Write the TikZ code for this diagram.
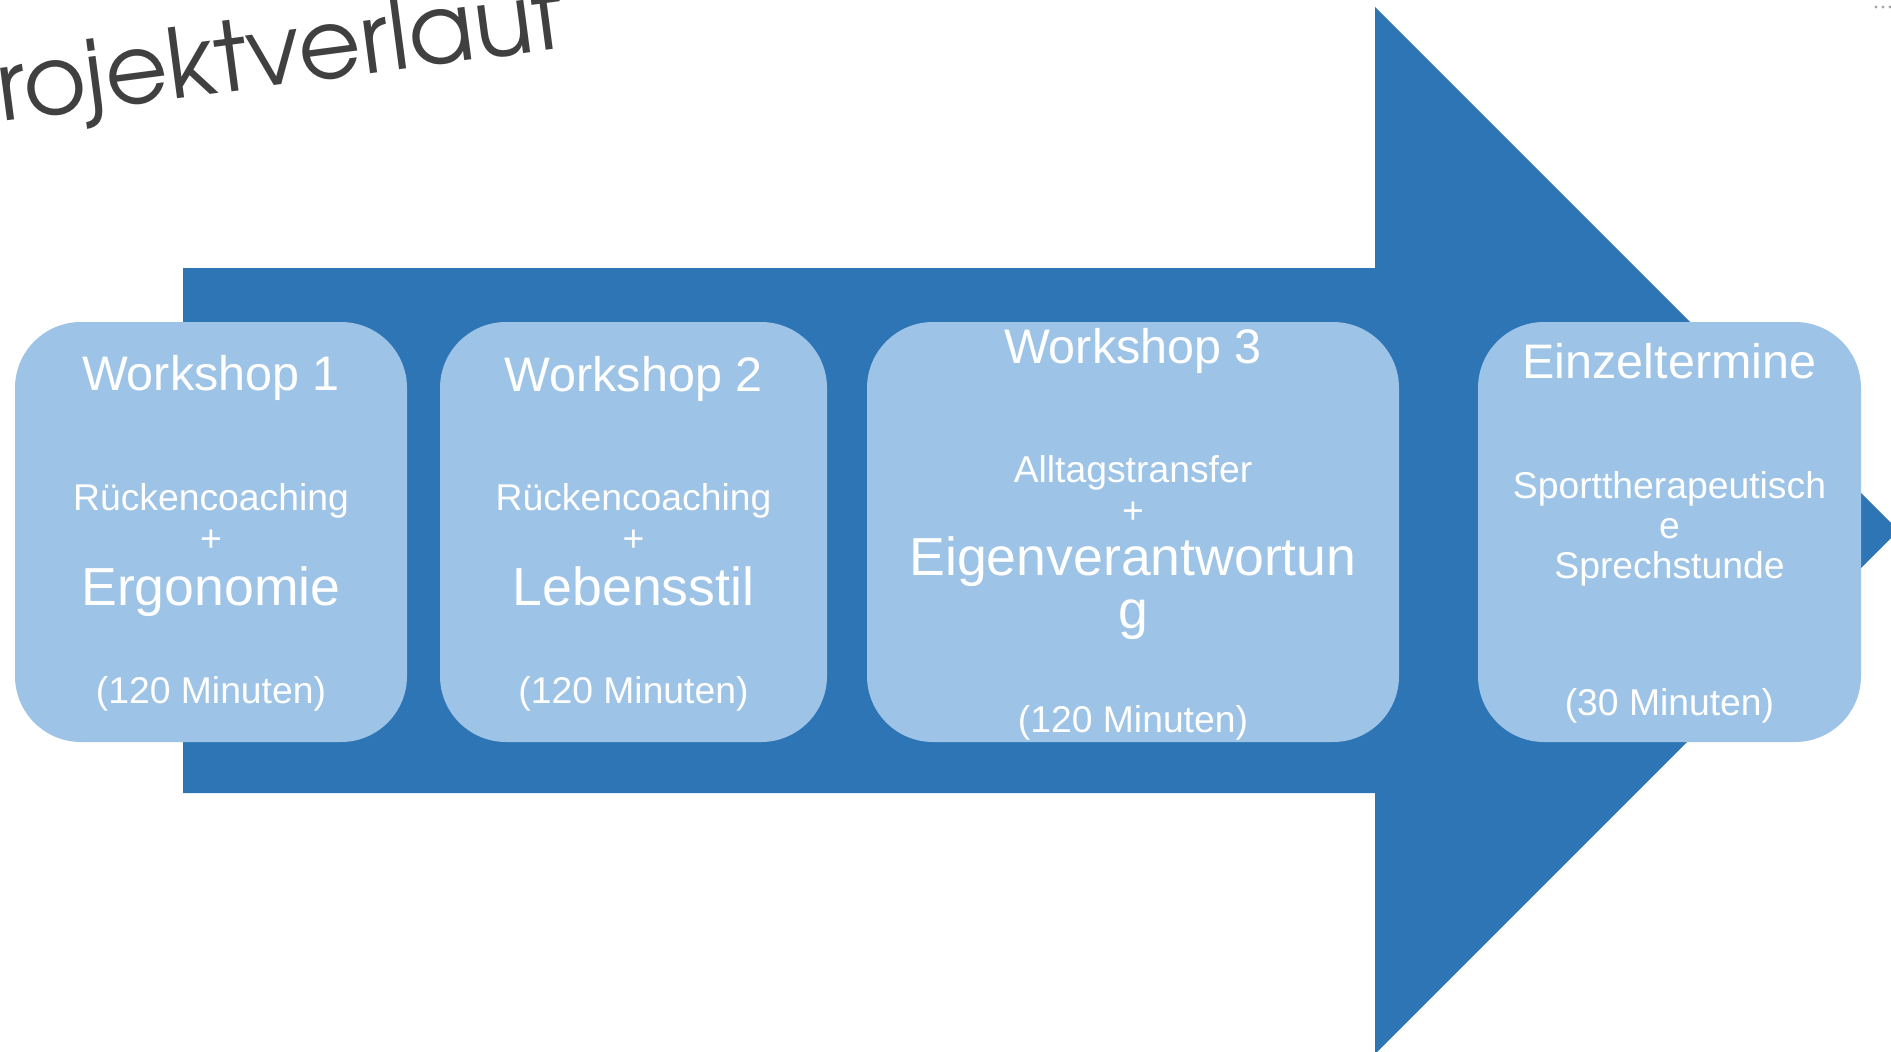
\documentclass[tikz,border=0pt]{standalone}
\usepackage{fontspec}
\setmainfont{Liberation Sans}
\newfontfamily\titlefont{texgyreadventor-regular.otf}
\definecolor{darkblue}{HTML}{2E75B6}
\definecolor{lightblue}{HTML}{9DC3E6}
\definecolor{titlegray}{HTML}{404040}
\begin{document}
\begin{tikzpicture}[x=1pt,y=-1pt,
  box/.style={fill=lightblue, draw=none, rounded corners=66pt, minimum height=420pt, inner sep=0pt},
  txt/.style={text=white, anchor=base, inner sep=0pt},
  bigtxt/.style={txt, font=\fontsize{48.5}{56}\selectfont},
  midtxt/.style={txt, font=\fontsize{37.3}{43}\selectfont},
  hugetxt/.style={txt, font=\fontsize{53.6}{61}\selectfont}]
\useasboundingbox (0,0) rectangle (1891,1052);
\clip (0,0) rectangle (1891,1052);
% big arrow
\fill[darkblue] (183,268) -- (1375,268) -- (1375,7) -- (1898.5,530.5)
  -- (1375,1054) -- (1375,793) -- (183,793) -- cycle;
% title
\node[anchor=base west, rotate=7.5, text=titlegray, inner sep=0pt,
  font=\titlefont\fontsize{96.5}{100}\selectfont] (title) at (1,122) {rojektverlauf};
% dots top right
\fill[gray!70] (1876,7) circle (1.7pt);
\fill[gray!70] (1883,7) circle (1.7pt);
\fill[gray!70] (1890,7) circle (1.7pt);
% boxes
\node[box, minimum width=392pt] (b1) at (211,532) {};
\node[box, minimum width=387pt] (b2) at (633.5,532) {};
\node[box, minimum width=532pt] (b3) at (1133,532) {};
\node[box, minimum width=383pt] (b4) at (1669.5,532) {};
% box 1
\node[bigtxt] (w1) at (211,390) {Workshop 1};
\node[midtxt] (r1) at (211,510) {Rückencoaching};
\node[midtxt] (p1) at (211,551) {+};
\node[hugetxt] (e1) at (211,605) {Ergonomie};
\node[midtxt] (m1) at (211,703) {(120 Minuten)};
% box 2
\node[bigtxt] (w2) at (633.5,391) {Workshop 2};
\node[midtxt] (r2) at (633.5,510) {Rückencoaching};
\node[midtxt] (p2) at (633.5,551) {+};
\node[hugetxt] (e2) at (633.5,605) {Lebensstil};
\node[midtxt] (m2) at (633.5,703) {(120 Minuten)};
% box 3
\node[bigtxt] (w3) at (1133,363) {Workshop 3};
\node[midtxt] (r3) at (1133,482) {Alltagstransfer};
\node[midtxt] (p3) at (1133,523) {+};
\node[hugetxt] (e3) at (1133,575) {Eigenverantwortun};
\node[hugetxt] (g3) at (1133,628) {g};
\node[midtxt] (m3) at (1133,732) {(120 Minuten)};
% box 4
\node[bigtxt] (w4) at (1669.5,378) {Einzeltermine};
\node[midtxt] (s4) at (1669.5,498) {Sporttherapeutisch};
\node[midtxt] (s4b) at (1669.5,538) {e};
\node[midtxt] (s4c) at (1669.5,578) {Sprechstunde};
\node[midtxt] (m4) at (1669.5,715) {(30 Minuten)};
\end{tikzpicture}
\end{document}
